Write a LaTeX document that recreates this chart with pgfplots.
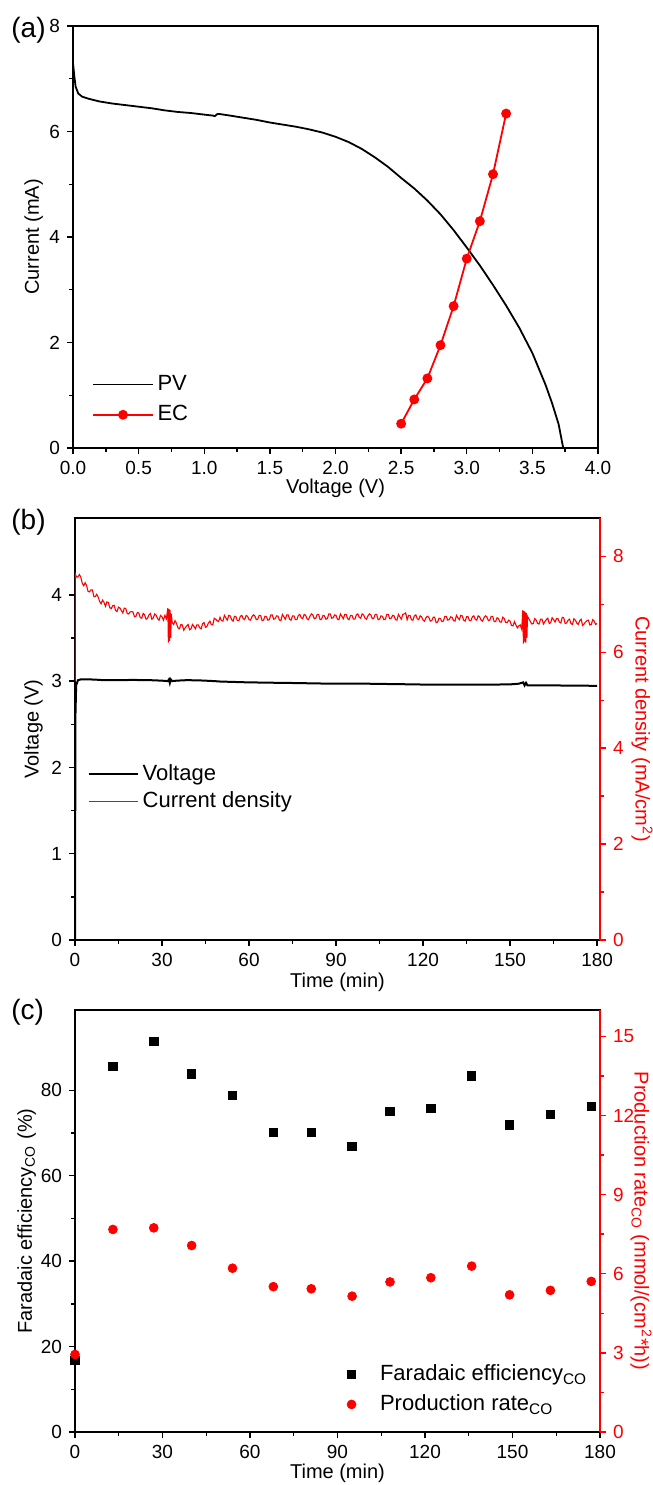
\documentclass[border=0pt]{standalone}
\usepackage{fontspec}
\setmainfont{Liberation Sans}
\usepackage{pgfplots}
\pgfplotsset{compat=1.18}
\pgfplotsset{
  orig/.style={
    scale only axis, width=262.5pt, height=211pt,
    axis line style={line width=0.8pt},
    tick align=outside,
    major tick length=3pt, minor tick length=1.8pt,
    tick style={black, line width=0.7pt},
    tick label style={font=\fontsize{9.5}{11}\selectfont},
    label style={font=\fontsize{10}{12}\selectfont},
    /pgf/number format/assume math mode=true,
    legend cell align=left,
    legend style={draw=none, fill=none, font=\fontsize{11}{13}\selectfont, row sep=2pt},
  },
  mainax/.style={tick pos=left},
  redax/.style={
    axis x line=none, axis y line*=right, ytick pos=right, yticklabel pos=right,
    y axis line style={red, line width=0.8pt},
    tick style={red, line width=0.7pt},
    yticklabel style={red},
    ylabel style={red, rotate=180, anchor=center},
  }
}
\begin{document}
\begin{tikzpicture}
\useasboundingbox (0,0) rectangle (326.5pt,742.5pt);
% ---------------- (a)
\begin{axis}[orig, mainax, at={(36.5pt,518.5pt)}, anchor=south west,
  xmin=0, xmax=4, ymin=0, ymax=8,
  xtick={0,0.5,...,4}, minor x tick num=1,
  ytick={0,2,4,6,8}, minor y tick num=1,
  xticklabel style={/pgf/number format/.cd, fixed, fixed zerofill, precision=1},
  xlabel={Voltage (V)}, ylabel={Current (mA)},
  xlabel style={at={(axis description cs:0.5,-0.095)}, anchor=center},
  ylabel style={at={(axis description cs:-0.075,0.5)}, anchor=center},
  legend image code/.code={\draw[#1, mark repeat=2, mark phase=2] plot coordinates {(0cm,0cm) (0.52cm,0cm) (1.04cm,0cm)};},
  legend style={at={(0.025,0.037)}, anchor=south west}]
\addplot[black, line width=0.9pt, mark=none] coordinates {
(0,7.30) (0.01,7.05) (0.02,6.85) (0.04,6.72) (0.07,6.66) (0.12,6.62) (0.2,6.57)
(0.3,6.53) (0.4,6.50) (0.5,6.47) (0.6,6.44) (0.7,6.40) (0.8,6.37) (0.9,6.35)
(1.0,6.32) (1.07,6.30) (1.08,6.29) (1.10,6.33) (1.12,6.33) (1.2,6.30) (1.3,6.26)
(1.4,6.22) (1.5,6.17) (1.6,6.13) (1.7,6.09) (1.8,6.04) (1.9,5.98) (2.0,5.90)
(2.1,5.80) (2.2,5.67) (2.3,5.51) (2.4,5.33) (2.5,5.12) (2.6,4.92) (2.7,4.69)
(2.8,4.43) (2.9,4.13) (3.0,3.80) (3.1,3.46) (3.2,3.09) (3.3,2.70) (3.4,2.28)
(3.5,1.80) (3.6,1.20) (3.65,0.85) (3.7,0.45) (3.735,0)};
\addlegendentry{PV}
\addplot[red, line width=0.9pt, mark=*, mark size=2pt, mark options={fill=red, draw=red}] coordinates {
(2.5,0.46) (2.6,0.92) (2.7,1.32) (2.8,1.95) (2.9,2.69) (3.0,3.59) (3.1,4.30) (3.2,5.19) (3.3,6.34)};
\addlegendentry{EC}
\end{axis}
% ---------------- (b)
\begin{axis}[orig, mainax, at={(37.5pt,272.5pt)}, anchor=south west,
  xmin=0, xmax=181, ymin=0, ymax=4.89,
  xtick={0,30,...,180}, minor x tick num=1,
  ytick={0,1,2,3,4}, minor y tick num=1,
  xlabel={Time (min)}, ylabel={Voltage (V)},
  xlabel style={at={(axis description cs:0.5,-0.1)}, anchor=center},
  ylabel style={at={(axis description cs:-0.079,0.5)}, anchor=center},
  legend image code/.code={\draw[#1] (0cm,0cm) -- (0.86cm,0cm);},
  legend style={at={(0.012,0.286)}, anchor=south west, row sep=0pt}]
\addplot[black, line width=1pt] coordinates {
(0,0) (0.15,2.6) (0.4,2.95) (1,3.01) (2,3.02) (5,3.02) (8,3.015) (10,3.01) (13,3.012) (15,3.01)
(18,3.012) (20,3.015) (23,3.01) (25,3.012) (28,3.008) (30,3.005) (32,3.0) (32.4,3.02) (32.7,2.98)
(33,3.02) (33.5,3.0) (35,3.005) (38,3.01) (40,3.01) (43,3.008) (45,3.005) (48,3.0) (50,2.995)
(55,2.99) (60,2.985) (65,2.983) (70,2.98) (75,2.978) (80,2.975) (85,2.972) (90,2.97) (95,2.97)
(100,2.97) (105,2.968) (110,2.965) (115,2.963) (120,2.96) (125,2.96) (130,2.96) (135,2.96)
(140,2.96) (145,2.96) (150,2.962) (153,2.97) (154.5,2.985) (155,2.95) (155.5,2.98) (156,2.95)
(157,2.95) (160,2.95) (165,2.95) (170,2.948) (175,2.947) (180,2.945)};
\addlegendentry{Voltage}
\addlegendimage{red, line width=0.8pt}
\addlegendentry{Current density}
\end{axis}
\begin{axis}[orig, redax, at={(37.5pt,272.5pt)}, anchor=south west,
  xmin=0, xmax=181, ymin=0, ymax=8.8,
  ytick={0,2,4,6,8}, minor y tick num=1,
  ylabel={Current density (mA/cm\textsuperscript{2})},
  ylabel style={at={(axis description cs:1.08,0.5)}}]
\addplot[red, line width=0.55pt] coordinates {
(0,5.4) (0,7.65) (0.5,7.57) (1,7.57) (1.5,7.62) (2,7.57) (2.5,7.44) (3,7.39) (3.5,7.45) (4,7.39)
(4.5,7.27) (5,7.26) (5.5,7.30) (6,7.30) (6.5,7.16) (7,7.16) (7.5,7.21) (8,7.15) (8.5,7.06) (9,7.01)
(9.5,7.09) (10,7.04) (10.5,6.96) (11,7.05) (11.5,7.04) (12,6.93) (12.5,6.91) (13,6.97) (13.5,6.98)
(14,6.87) (14.5,6.85) (15,6.94) (15.5,6.92) (16,6.87) (16.5,6.82) (17,6.92) (17.5,6.91) (18,6.81)
(18.5,6.80) (19,6.84) (19.5,6.85) (20,6.84) (20.5,6.74) (21,6.75) (21.5,6.83) (22,6.82) (22.5,6.72)
(23,6.71) (23.5,6.81) (24,6.78) (24.5,6.69) (25,6.71) (25.5,6.78) (26,6.81) (26.5,6.69) (27,6.72)
(27.5,6.80) (28,6.77) (28.5,6.70) (29,6.67) (29.5,6.77) (30,6.74) (30.5,6.67) (31,6.77) (31.5,6.70)
(32.0,6.92) (32.2,6.20) (32.4,6.90) (32.6,6.24) (32.8,6.88) (33.0,6.30) (33.2,6.80) (33.5,6.62)
(34,6.58) (34.5,6.66) (35,6.60) (35.5,6.51) (36,6.49) (36.5,6.58) (37,6.57) (37.5,6.46) (38,6.51)
(38.5,6.55) (39,6.58) (39.5,6.47) (40,6.49) (40.5,6.58) (41,6.54) (41.5,6.49) (42,6.57) (42.5,6.57)
(43,6.51) (43.5,6.49) (44,6.60) (44.5,6.62) (45,6.52) (45.5,6.54) (46,6.61) (46.5,6.65) (47,6.58)
(47.5,6.57) (48,6.71) (48.5,6.69) (49,6.66) (49.5,6.64) (50,6.73) (50.5,6.66) (51,6.65) (51.5,6.77)
(52,6.72) (52.5,6.67) (53,6.77) (53.5,6.76) (54,6.68) (54.5,6.65) (55,6.75) (55.5,6.74) (56,6.66)
(56.5,6.66) (57,6.75) (57.5,6.77) (58,6.70) (58.5,6.68) (59,6.77) (59.5,6.75) (60,6.68) (60.5,6.67)
(61,6.74) (61.5,6.78) (62,6.76) (62.5,6.68) (63,6.69) (63.5,6.77) (64,6.77) (64.5,6.66) (65,6.67)
(65.5,6.75) (66,6.74) (66.5,6.67) (67,6.68) (67.5,6.78) (68,6.78) (68.5,6.69) (69,6.70) (69.5,6.76)
(70,6.75) (70.5,6.67) (71,6.66) (71.5,6.79) (72,6.74) (72.5,6.69) (73,6.78) (73.5,6.78) (74,6.69)
(74.5,6.67) (75,6.76) (75.5,6.76) (76,6.68) (76.5,6.68) (77,6.77) (77.5,6.79) (78,6.72) (78.5,6.70)
(79,6.79) (79.5,6.77) (80,6.70) (80.5,6.68) (81,6.75) (81.5,6.80) (82,6.78) (82.5,6.70) (83,6.71)
(83.5,6.79) (84,6.79) (84.5,6.68) (85,6.69) (85.5,6.77) (86,6.76) (86.5,6.69) (87,6.70) (87.5,6.80)
(88,6.80) (88.5,6.71) (89,6.72) (89.5,6.78) (90,6.77) (90.5,6.69) (91,6.68) (91.5,6.80) (92,6.75)
(92.5,6.70) (93,6.79) (93.5,6.79) (94,6.70) (94.5,6.68) (95,6.77) (95.5,6.77) (96,6.69) (96.5,6.69)
(97,6.78) (97.5,6.80) (98,6.73) (98.5,6.71) (99,6.80) (99.5,6.78) (100,6.71) (100.5,6.69) (101,6.76)
(101.5,6.80) (102,6.78) (102.5,6.70) (103,6.71) (103.5,6.79) (104,6.79) (104.5,6.68) (105,6.69)
(105.5,6.76) (106,6.75) (106.5,6.68) (107,6.69) (107.5,6.79) (108,6.79) (108.5,6.70) (109,6.71)
(109.5,6.77) (110,6.76) (110.5,6.68) (111,6.67) (111.5,6.79) (112,6.74) (112.5,6.69) (113,6.79)
(113.5,6.80) (114,6.82) (114.5,6.68) (115,6.77) (115.5,6.77) (116,6.68) (116.5,6.67) (117,6.76)
(117.5,6.78) (118,6.70) (118.5,6.68) (119,6.76) (119.5,6.74) (120,6.67) (120.5,6.65) (121,6.72)
(121.5,6.75) (122,6.73) (122.5,6.65) (123,6.66) (123.5,6.73) (124,6.73) (124.5,6.62) (125,6.63)
(125.5,6.71) (126,6.70) (126.5,6.64) (127,6.65) (127.5,6.75) (128,6.75) (128.5,6.67) (129,6.68)
(129.5,6.74) (130,6.73) (130.5,6.66) (131,6.65) (131.5,6.77) (132,6.72) (132.5,6.68) (133,6.77)
(133.5,6.76) (134,6.67) (134.5,6.65) (135,6.74) (135.5,6.74) (136,6.66) (136.5,6.66) (137,6.74)
(137.5,6.76) (138,6.69) (138.5,6.67) (139,6.76) (139.5,6.74) (140,6.67) (140.5,6.65) (141,6.72)
(141.5,6.76) (142,6.74) (142.5,6.66) (143,6.67) (143.5,6.75) (144,6.75) (144.5,6.64) (145,6.64)
(145.5,6.72) (146,6.70) (146.5,6.63) (147,6.63) (147.5,6.73) (148,6.70) (148.5,6.62) (149,6.62)
(149.5,6.67) (150,6.65) (150.5,6.56) (151,6.55) (151.5,6.64) (152,6.57) (152.5,6.51) (153,6.55)
(153.5,6.57) (154,6.48) (154.4,6.88) (154.6,6.18) (154.8,6.86) (155.0,6.22) (155.2,6.84) (155.4,6.20)
(155.6,6.82) (155.8,6.30) (156.0,6.75) (157,6.64) (157.5,6.59) (158,6.60) (158.5,6.70) (159,6.67)
(159.5,6.60) (160,6.59) (160.5,6.69) (161,6.69) (161.5,6.59) (162,6.64) (162.5,6.68) (163,6.71)
(163.5,6.60) (164,6.62) (164.5,6.72) (165,6.68) (165.5,6.63) (166,6.70) (166.5,6.70) (167,6.63)
(167.5,6.61) (168,6.73) (168.5,6.72) (169,6.60) (169.5,6.61) (170,6.67) (170.5,6.69) (171,6.60)
(171.5,6.58) (172,6.70) (172.5,6.67) (173,6.61) (173.5,6.58) (174,6.66) (174.5,6.69) (175,6.56)
(175.5,6.59) (176,6.63) (176.5,6.66) (177,6.67) (177.5,6.57) (178,6.58) (178.5,6.68) (179,6.65)
(179.5,6.58) (180,6.60)};
\end{axis}
% ---------------- (c)
\begin{axis}[orig, mainax, at={(37.5pt,26.5pt)}, anchor=south west,
  xmin=0, xmax=180, ymin=0, ymax=98.8,
  xtick={0,30,...,180}, minor x tick num=1,
  ytick={0,20,40,60,80}, minor y tick num=1,
  xlabel={Time (min)}, ylabel={Faradaic efficiency\textsubscript{CO} (\%)},
  xlabel style={at={(axis description cs:0.5,-0.097)}, anchor=center},
  ylabel style={at={(axis description cs:-0.092,0.5)}, anchor=center},
  legend image code/.code={\path[draw=none] (0cm,0cm) -- (0.86cm,0cm); \draw[#1] plot coordinates {(0.43cm,0cm)};},
  legend style={at={(0.468,0.023)}, anchor=south west, row sep=1.5pt}]
\addplot[only marks, mark=square*, mark size=2.1pt, black] coordinates {
(0,16.8) (13,85.6) (27,91.5) (40,83.8) (54,78.8) (68,70.1) (81,70.1) (95,66.9)
(108,75.0) (122,75.7) (136,83.4) (149,71.9) (163,74.4) (177,76.3)};
\addlegendentry{Faradaic efficiency\textsubscript{CO}}
\addlegendimage{only marks, mark=*, mark size=2.2pt, red, mark options={fill=red, draw=red}}
\addlegendentry{Production rate\textsubscript{CO}}
\end{axis}
\begin{axis}[orig, redax, at={(37.5pt,26.5pt)}, anchor=south west,
  xmin=0, xmax=180, ymin=0, ymax=16,
  ytick={0,3,6,9,12,15}, minor y tick num=1,
  ylabel={Production rate\textsubscript{CO} (mmol/(cm\textsuperscript{2}*h))},
  ylabel style={at={(axis description cs:1.078,0.5)}}]
\addplot[only marks, mark=*, mark size=2.2pt, red, mark options={fill=red, draw=red}] coordinates {
(0,2.94) (13,7.68) (27,7.74) (40,7.07) (54,6.21) (68,5.51) (81,5.43) (95,5.15)
(108,5.69) (122,5.85) (136,6.29) (149,5.20) (163,5.37) (177,5.71)};
\end{axis}
% panel labels
\node[font=\fontsize{14}{16}\selectfont, anchor=west, inner sep=0pt] at (5.5pt,727.5pt) {(a)};
\node[font=\fontsize{14}{16}\selectfont, anchor=west, inner sep=0pt] at (5.5pt,481.5pt) {(b)};
\node[font=\fontsize{14}{16}\selectfont, anchor=west, inner sep=0pt] at (5.5pt,236.5pt) {(c)};
\end{tikzpicture}
\end{document}
